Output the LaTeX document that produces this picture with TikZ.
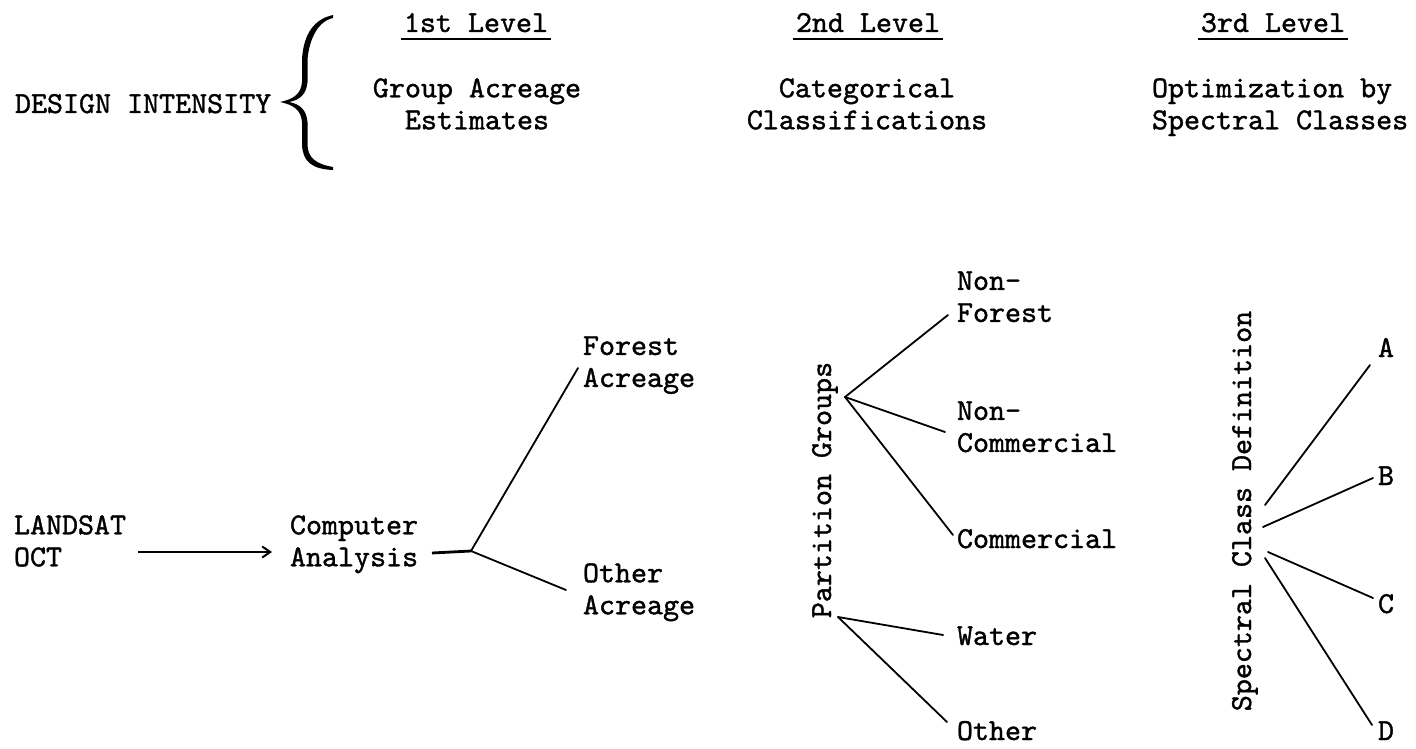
\documentclass[tikz,border=0pt]{standalone}
\usepackage{fontspec}
\newfontfamily\twfont{lmmono10-regular.otf}[FakeBold=1.2]
\usetikzlibrary{arrows.meta}
\begin{document}
\begin{tikzpicture}[x=1pt,y=-1pt,
  txt/.style={font=\fontsize{30.5}{32}\selectfont\twfont, inner sep=0pt, outer sep=0pt},
  ln/.style={line width=1.8pt, line cap=round},
  ul/.style={line width=2.4pt},
  arr/.style={line width=2pt, -{Straight Barb[length=8pt,width=11pt,line width=2pt]}}]
\useasboundingbox[fill=white] (0,0) rectangle (1416,749);

% header
\node[txt, anchor=base west] (design) at (15,113) {DESIGN INTENSITY};
\fill (333,15) .. controls (310,20) and (303,40) .. (302,60) -- (302,82)
  .. controls (301,94) and (294,99) .. (280,102)
  .. controls (294,105) and (301,110) .. (302,122) -- (302,145)
  .. controls (303,162) and (312,169) .. (333,170)
  -- (333,167) .. controls (316,164) and (308,158) .. (307.5,145) -- (307.5,122)
  .. controls (306.5,110) and (300,104) .. (289,102)
  .. controls (300,100) and (306.5,94) .. (307.5,82) -- (307.5,60)
  .. controls (308.5,45) and (315,22) .. (333,18) -- cycle;

\node[txt, anchor=base] (l1) at (476,32) {1st Level};
\node[txt, anchor=base] (l2) at (868,32) {2nd Level};
\node[txt, anchor=base] (l3) at (1273,32) {3rd Level};
\foreach \n in {l1,l2,l3}
  \draw[ul] ([shift={(-3,7)}]\n.base west) -- ([shift={(3,7)}]\n.base east);

\node[txt, align=center, anchor=north] (g1) at (477,78.3) {Group Acreage\\Estimates};
\node[txt, align=center, anchor=north] (g2) at (867,78.3) {Categorical\\Classifications};
\node[txt, align=left, anchor=north west] (g3) at (1152,78.3) {Optimization by\\Spectral Classes};

% first level
\node[txt, align=left, anchor=north west] (landsat) at (14,515.3) {LANDSAT\\OCT};
\node[txt, align=left, anchor=north west] (comp) at (290,515.3) {Computer\\Analysis};
\coordinate (a1) at (138,552);
\coordinate (a2) at (272,552);
\draw[arr] (a1) -- (a2);

\node[txt, align=left, anchor=north west] (forest) at (583,336.3) {Forest\\Acreage};
\node[txt, align=left, anchor=north west] (other) at (583,563.3) {Other\\Acreage};
\coordinate (s1) at (432,553);
\coordinate (j1) at (471,551);
\coordinate (fe) at (578,368);
\coordinate (oe) at (566,590);
\draw[line width=2.8pt] (s1) -- (j1);
\draw[ln] (j1) -- (fe);
\draw[ln] (j1) -- (oe);

% second level
\node[txt, rotate=90, anchor=base] (pg) at (831,490) {Partition Groups};
\node[txt, align=left, anchor=north west] (nf) at (957,271.3) {Non-\\Forest};
\node[txt, align=left, anchor=north west] (nc) at (957,401.3) {Non-\\Commercial};
\node[txt, anchor=base west] (com) at (957,548) {Commercial};
\node[txt, anchor=base west] (water) at (957,645) {Water};
\node[txt, anchor=base west] (oth) at (957,740) {Other};
\coordinate (p1) at (845,397);
\coordinate (p2) at (838,617);
\coordinate (nfe) at (948,315);
\coordinate (nce) at (945,432);
\coordinate (come) at (953,535);
\coordinate (wae) at (943,635);
\coordinate (ote) at (947,722);
\draw[ln] (p1) -- (nfe);
\draw[ln] (p1) -- (nce);
\draw[ln] (p1) -- (come);
\draw[ln] (p2) -- (wae);
\draw[ln] (p2) -- (ote);

% third level
\node[txt, rotate=90, anchor=base] (scd) at (1251,511) {Spectral Class Definition};
\node[txt, anchor=base west] (A) at (1378,357) {A};
\node[txt, anchor=base west] (B) at (1378,485) {B};
\node[txt, anchor=base west] (C) at (1378,613) {C};
\node[txt, anchor=base west] (D) at (1378,740) {D};
\coordinate (sa) at (1265,505);
\coordinate (sb) at (1263,527);
\coordinate (sc) at (1268,552);
\coordinate (sd) at (1265,558);
\coordinate (ea) at (1370,365);
\coordinate (eb) at (1373,478);
\coordinate (ec) at (1373,598);
\coordinate (ed) at (1372,725);
\draw[ln] (sa) -- (ea);
\draw[ln] (sb) -- (eb);
\draw[ln] (sc) -- (ec);
\draw[ln] (sd) -- (ed);
\end{tikzpicture}
\end{document}
